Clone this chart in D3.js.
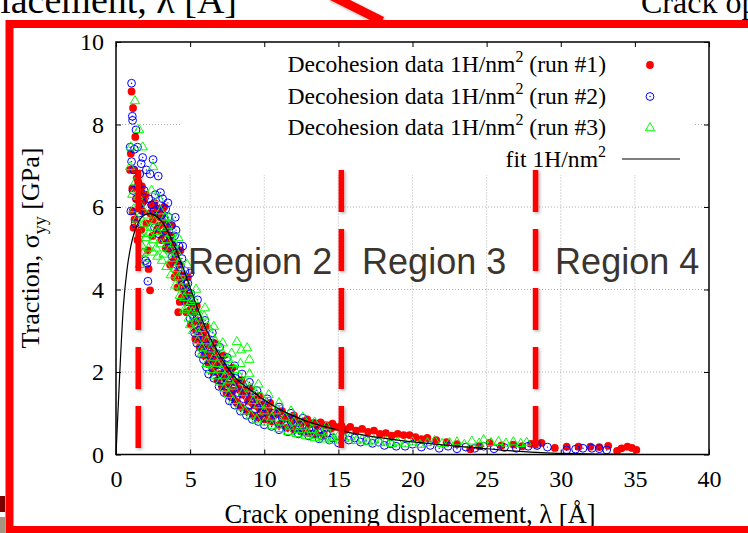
<!DOCTYPE html>
<html>
<head>
<meta charset="utf-8">
<script src="https://cdn.jsdelivr.net/npm/d3@7"></script>
<style>
  body { margin: 0; background: #fff; }
  svg { display: block; }
</style>
</head>
<body>
<svg id="chart" width="748" height="533"></svg>
<script>
// ---- data: [crack opening (A), traction (GPa)] ----
const run1 = [
  [0.95,6.9],[1.0,7.3],[1.05,8.8],[1.1,6.45],[1.12,5.9],[1.15,8.4],[1.18,5.5],[1.2,6.9],[1.25,5.7],[1.3,7.7],
  [1.35,6.2],[1.4,6.7],[1.45,5.2],[1.5,6.6],[1.6,6.0],[1.65,6.35],[1.7,5.45],[1.75,6.5],[1.8,5.9],[1.9,6.15],
  [2.0,6.3],[2.05,5.6],[2.15,4.95],[2.2,4.5],[2.3,3.98],[2.3,5.85],[2.4,6.05],[2.5,5.7],
  [2.6,6.1],[2.7,5.8],[2.8,5.95],[2.9,5.55],[3.0,5.75],[3.1,5.9],[3.2,5.35],[3.3,5.6],[3.4,5.45],[3.5,5.15],
  [3.6,5.3],[3.7,4.95],[3.8,5.1],[3.9,4.7],[4.0,4.85],[4.1,4.4],[4.2,3.45],[4.25,4.6],[4.3,3.7],[4.4,4.2],
  [4.5,4.35],[4.6,3.95],[4.7,4.05],[4.8,3.7],[4.9,3.85],[5.0,3.5],
  [5.1,3.65],[5.2,3.2],[5.3,3.45],[5.4,3.0],[5.5,3.25],[5.6,2.85],[5.7,3.1],[5.8,2.7],[5.9,2.95],[6.0,2.55],
  [6.1,2.8],[6.2,2.4],[6.35,2.65],[6.5,2.3],[6.6,2.5],[6.75,2.15],[6.9,2.35],[7.0,1.95],[7.15,2.2],[7.3,1.85],
  [7.45,2.05],[7.6,1.7],[7.75,1.9],[7.9,1.55],[8.05,1.75],[8.15,1.25],[8.3,1.6],[8.5,1.45],[8.7,1.55],[8.9,1.3],
  [9.1,1.4],[9.3,1.2],[9.5,1.3],[9.7,1.1],[9.9,1.2],
  [10.1,1.0],[10.3,1.1],[10.6,0.95],[10.9,1.0],[11.2,0.85],[11.5,0.92],[11.8,0.8],[12.1,0.85],[12.4,0.75],[12.7,0.8],
  [13.0,0.72],[13.3,0.76],[13.6,0.68],[13.9,0.72],[14.2,0.71],[14.5,0.63],[14.8,0.67],
  [15.2,0.7],[15.5,0.6],[15.8,0.67],[16.2,0.58],[16.6,0.62],[17.0,0.55],[17.4,0.58],[17.8,0.5],[18.2,0.52],[18.6,0.46],
  [19.0,0.5],[19.4,0.47],[19.8,0.47],[20.2,0.42],[20.6,0.37],[21.0,0.4],[21.6,0.35],[22.3,0.3],[23.0,0.25],[23.9,0.13],
  [24.5,0.2],[25.2,0.28],[26.0,0.22],[26.8,0.24],[27.4,0.2],[28.0,0.26],[28.7,0.28],[29.6,0.16],[30.4,0.19],[31.2,0.19],
  [32.0,0.19],[32.6,0.18],[33.2,0.21],[33.8,0.09],[34.1,0.15],[34.5,0.19],[34.8,0.16],[35.1,0.11],
  [2.45,5.3],[2.75,5.45],[3.05,5.2],[3.35,5.0],[3.65,4.6],[3.95,4.3],[4.15,4.05],[4.45,3.8],[4.75,3.45],[5.05,3.15],
  [5.35,2.8],[5.65,2.6],[5.95,2.4],[6.25,2.2],[6.55,2.0],[6.85,1.8],[7.15,1.65],[7.45,1.5],[7.75,1.4],[8.05,1.3],
  [8.45,1.15],[8.85,1.05],[9.25,0.95],[9.65,0.9],[10.05,0.85],[10.5,0.8],[11.0,0.72],[11.5,0.65],[12.0,0.6],[12.5,0.56],
  [13.0,0.52],[13.5,0.5],[14.0,0.48],[3.25,6.0],[3.75,5.55],[4.35,4.95],[4.85,4.3],[5.45,3.6],[6.05,3.1],[6.65,2.7],
  [7.25,2.4],[7.85,2.1],[8.45,1.8],[9.05,1.6],[9.65,1.42],[10.4,1.25],[11.2,1.05],[12.0,0.95],[12.9,0.85],[13.8,0.78],
  [14.6,0.75]
];
const run2 = [
  [0.95,7.45],[1.0,5.9],[1.05,9.0],[1.05,7.1],[1.1,8.2],[1.12,8.1],[1.15,6.4],[1.2,6.9],[1.25,7.4],[1.3,5.6],
  [1.35,7.87],[1.4,6.2],[1.45,7.45],[1.5,6.5],[1.55,5.85],[1.6,6.8],[1.7,7.05],[1.75,6.1],[1.8,7.2],[1.9,6.4],
  [2.0,4.7],[2.05,6.9],[2.1,4.64],[2.15,4.2],[2.2,6.2],[2.3,6.8],[2.4,6.05],[2.5,7.15],[2.55,5.9],
  [2.65,6.3],[2.75,5.95],[2.85,6.75],[2.95,6.05],[3.05,5.8],[3.15,6.2],[3.25,5.7],[3.35,5.95],[3.45,5.5],[3.55,5.75],
  [3.65,5.3],[3.75,5.55],[3.85,5.05],[3.95,5.3],[4.05,5.44],[4.15,4.9],[4.25,5.05],[4.35,4.55],[4.45,4.75],[4.55,4.3],
  [4.65,4.45],[4.75,3.95],[4.85,4.15],[4.95,3.7],[5.05,3.9],
  [5.15,3.4],[5.25,3.6],[5.35,3.15],[5.45,2.7],[5.55,3.3],[5.65,2.95],[5.75,3.1],[5.85,2.55],[5.95,2.8],[6.1,2.12],
  [6.2,2.6],[6.35,2.4],[6.5,2.7],[6.6,2.2],[6.75,2.45],[6.9,2.0],[7.0,1.8],[7.1,2.25],[7.25,1.9],[7.4,2.1],
  [7.55,1.75],[7.7,1.95],[7.8,1.4],[7.9,1.6],[8.05,1.85],[8.2,1.5],[8.4,1.7],[8.6,1.35],[8.8,1.55],[9.0,1.2],
  [9.2,1.45],[9.4,1.1],[9.6,1.3],[9.8,1.0],[10.0,1.15],
  [10.3,0.9],[10.6,1.0],[10.9,0.8],[11.2,0.9],[11.5,0.7],[11.8,0.8],[12.1,0.62],[12.4,0.7],[12.7,0.55],[13.0,0.62],
  [13.3,0.5],[13.6,0.56],[13.9,0.45],[14.2,0.5],[14.6,0.4],[15.0,0.28],[15.3,0.42],
  [15.7,0.35],[16.1,0.4],[16.5,0.3],[16.9,0.34],[17.3,0.27],[17.7,0.3],[18.1,0.22],[18.5,0.26],[18.9,0.2],[19.5,0.2],
  [20.0,0.25],[20.6,0.18],[21.2,0.22],[21.8,0.15],[22.4,0.2],[23.0,0.14],[23.6,0.18],[24.2,0.15],[24.8,0.2],[25.5,0.14],
  [26.2,0.17],[27.0,0.15],[27.8,0.2],[28.4,0.22],[29.1,0.18],[30.4,0.11],[31.0,0.13],[31.5,0.15],[32.1,0.15],[32.6,0.14],
  [33.1,0.11],
  [2.6,5.5],[2.9,5.35],[3.2,5.25],[3.5,5.0],[3.8,4.8],[4.1,4.6],[4.4,4.1],[4.7,3.7],[5.0,3.3],[5.3,2.95],
  [5.6,2.45],[5.9,2.3],[6.25,1.95],[6.6,1.85],[6.95,1.65],[7.3,1.5],[7.65,1.3],[8.0,1.2],[8.4,1.05],[8.8,0.95],
  [9.2,0.85],[9.6,0.8],[10.0,0.72],[10.5,0.68],[11.0,0.6],[11.6,0.55],[12.3,0.5],[13.0,0.45],[13.7,0.38],[14.4,0.35],
  [3.0,6.35],[3.5,6.1],[4.0,5.75],[4.5,5.05],[5.0,4.4],[5.5,3.75],[6.0,3.25],[6.5,2.95],[7.0,2.6],[7.5,2.35],
  [8.0,2.15],[8.5,1.95],[9.0,1.75],[9.5,1.55],[10.2,1.35],[11.0,1.15],[11.8,1.0],[12.6,0.88],[13.4,0.75],[14.2,0.65]
];
const run3 = [
  [0.95,6.97],[1.0,7.45],[1.1,6.3],[1.2,5.95],[1.28,8.57],[1.3,6.6],[1.4,5.7],[1.5,6.25],[1.55,7.87],[1.6,5.35],
  [1.7,6.0],[1.75,5.05],[1.8,7.45],[1.83,4.88],[1.9,5.6],[2.0,5.25],[2.1,5.8],[2.2,5.0],[2.3,5.5],[2.4,6.4],
  [2.5,6.97],[2.5,5.2],[2.6,5.65],
  [2.7,5.0],[2.8,5.4],[2.9,6.2],[3.0,5.1],[3.1,5.5],[3.2,4.85],[3.3,5.75],[3.4,5.2],[3.5,5.55],[3.6,4.95],
  [3.7,5.35],[3.8,4.75],[3.9,5.1],[4.0,4.5],[4.1,4.9],[4.2,4.3],[4.3,4.65],[4.4,4.05],[4.5,4.4],[4.6,3.8],
  [4.7,4.2],[4.8,3.55],[4.9,3.95],[5.0,3.14],[5.05,3.7],
  [5.15,3.45],[5.25,3.75],[5.35,3.2],[5.45,3.5],[5.55,2.95],[5.65,3.3],[5.8,2.58],[5.85,3.05],[5.95,3.35],[6.1,2.75],
  [6.2,3.1],[6.35,2.55],[6.45,2.9],[6.6,2.35],[6.7,2.75],[6.85,2.2],[6.95,2.6],[7.1,2.05],[7.2,2.45],[7.35,1.9],
  [7.5,2.3],[7.65,1.8],[7.75,2.2],[7.9,1.65],[8.0,2.05],[8.15,2.73],[8.3,1.9],[8.45,2.53],[8.55,1.5],[8.7,1.75],
  [8.85,2.58],[9.0,2.3],[9.1,1.6],[9.25,1.3],[9.4,1.5],[9.6,1.2],[9.8,1.4],[10.0,1.05],
  [10.2,1.2],[10.5,0.9],[10.8,1.05],[11.1,0.78],[11.4,0.9],[11.7,0.68],[12.0,0.78],[12.3,0.6],[12.6,0.68],[12.9,0.52],
  [13.2,0.6],[13.5,0.46],[13.8,0.54],[14.1,0.42],[14.4,0.48],[14.7,0.4],[15.0,0.45],
  [15.4,0.38],[15.8,0.42],[16.2,0.33],[16.6,0.37],[17.0,0.3],[17.4,0.34],[17.8,0.28],[18.2,0.32],[18.6,0.26],[19.0,0.3],
  [19.5,0.25],[20.0,0.3],[20.5,0.24],[21.0,0.28],[21.5,0.33],[22.0,0.26],[22.5,0.28],[23.0,0.3],[23.5,0.24],[24.0,0.32],
  [24.5,0.27],[24.8,0.35],[25.3,0.28],[25.8,0.31],[26.3,0.27],[26.8,0.3],[27.3,0.26],[27.7,0.29],
  [1.6,4.6],[1.9,4.75],[2.2,5.35],[2.5,4.9],[2.8,4.8],[3.1,4.7],[3.4,4.55],[3.7,4.35],[4.0,4.1],[4.3,3.85],
  [4.6,3.5],[4.9,3.3],[5.2,3.0],[5.5,2.75],[5.8,2.45],[6.1,2.2],[6.4,2.05],[6.7,1.9],[7.0,1.75],[7.3,1.6],
  [7.6,1.45],[7.9,1.3],[8.3,1.15],[8.7,1.05],[9.1,0.95],[9.5,0.85],[10.0,0.78],[10.5,0.7],[11.0,0.62],[11.6,0.55],
  [12.2,0.5],[12.8,0.45],[13.4,0.4],[14.0,0.37],[14.6,0.34],[3.0,5.9],[3.6,5.75],[4.2,5.25],[4.8,4.6],[5.4,4.0],
  [6.0,3.55],[6.6,3.1],[7.2,2.7],[7.8,2.45],[8.4,2.2],[9.0,1.95],[9.6,1.7],[10.3,1.45],[11.0,1.25],[11.8,1.05],
  [12.6,0.9],[13.4,0.78],[14.2,0.68]
];

// fitted traction-separation curve
const fitX = [0, 0.25, 0.5, 0.75, 1.0, 1.25, 1.5, 1.75, 2.0, 2.3, 2.6, 3.0, 3.5, 4.0, 4.5, 5.0, 5.5, 6.0, 6.5, 7.0,
              7.5, 8, 9, 10, 11, 12, 13, 14, 15, 17, 19, 21, 23, 25, 27, 29, 31, 33, 35];
const fitY = [0, 1.95, 3.6, 4.5, 5.05, 5.4, 5.62, 5.76, 5.82, 5.84, 5.8, 5.68, 5.4, 5.0, 4.55, 4.05, 3.55, 3.1, 2.72, 2.4,
              2.12, 1.88, 1.58, 1.32, 1.1, 0.93, 0.79, 0.68, 0.59, 0.45, 0.35, 0.27, 0.2, 0.14, 0.08, 0.04, 0.02, 0.01, 0.01];

const xTicks = [0, 5, 10, 15, 20, 25, 30, 35, 40];
const yTicks = [0, 2, 4, 6, 8, 10];

const legendLabels = ['Decohesion data 1H/nm', 'Decohesion data 1H/nm', 'Decohesion data 1H/nm', 'fit 1H/nm'];
const legendTails = [' (run #1)', ' (run #2)', ' (run #3)', ''];

// annotation overlay (in data units)
const regionLines = [1.5, 15.2, 28.3];
const regionNames = ['Region 2', 'Region 3', 'Region 4'];
const regionStart = [4.86, 16.6, 29.62];

const serif = '"Liberation Serif", "Times New Roman", serif';
const sans = '"Liberation Sans", Arial, sans-serif';

const svg = d3.select('#chart');
const x = d3.scaleLinear().domain([0, 40]).range([116, 709]);
const y = d3.scaleLinear().domain([0, 10]).range([454.5, 42]);

// soft shadow used by the slide's red marks (user space so thin lines keep it)
const defs = svg.append('defs');
defs.append('filter').attr('id', 'shadow').attr('filterUnits', 'userSpaceOnUse')
    .attr('x', 0).attr('y', 0).attr('width', 748).attr('height', 533)
  .append('feDropShadow')
    .attr('dx', 1.5).attr('dy', 1.5).attr('stdDeviation', 1.5)
    .attr('flood-color', '#000').attr('flood-opacity', 0.3);

// grid
svg.append('g').selectAll('line').data(xTicks.slice(1, -1)).join('line')
    .attr('x1', d => x(d)).attr('x2', d => x(d))
    .attr('y1', y(0)).attr('y2', y(10))
    .attr('stroke', '#b0b0b0').attr('stroke-dasharray', '1,2');
svg.append('g').selectAll('line').data(yTicks.slice(1, -1)).join('line')
    .attr('x1', x(0)).attr('x2', x(40))
    .attr('y1', d => y(d)).attr('y2', d => y(d))
    .attr('stroke', '#b0b0b0').attr('stroke-dasharray', '1,2');

// opaque key box hides grid
svg.append('rect').attr('x', 182).attr('y', 43).attr('width', 511).attr('height', 132).attr('fill', '#fff');

// axes
const styleAxis = g => {
  g.select('.domain').remove();
  g.selectAll('line').attr('stroke', '#000');
  g.selectAll('text').attr('font-family', serif).attr('font-size', 24).attr('fill', '#000');
};
svg.append('g').attr('transform', `translate(0,${y(0)})`)
    .call(d3.axisBottom(x).tickValues(xTicks).tickSize(-5).tickPadding(15)).call(styleAxis);
svg.append('g').attr('transform', `translate(0,${y(10)})`)
    .call(d3.axisTop(x).tickValues(xTicks).tickSize(-5).tickFormat('')).call(styleAxis);
svg.append('g').attr('transform', `translate(${x(0)},0)`)
    .call(d3.axisLeft(y).tickValues(yTicks).tickSize(-5).tickPadding(12)).call(styleAxis);
svg.append('g').attr('transform', `translate(${x(40)},0)`)
    .call(d3.axisRight(y).tickValues(yTicks).tickSize(-5).tickFormat('')).call(styleAxis);

svg.append('rect')
    .attr('x', x(0)).attr('y', y(10))
    .attr('width', x(40) - x(0)).attr('height', y(0) - y(10))
    .attr('fill', 'none').attr('stroke', '#000').attr('stroke-width', 1.5);

// data
const tri = d3.symbol(d3.symbolTriangle).size(38)();

svg.append('g').selectAll('circle').data(run1).join('circle')
    .attr('cx', d => x(d[0])).attr('cy', d => y(d[1])).attr('r', 3.9).attr('fill', '#ff0000');

const blue = svg.append('g').selectAll('g').data(run2).join('g')
    .attr('transform', d => `translate(${x(d[0])},${y(d[1])})`);
blue.append('circle').attr('r', 3.9).attr('fill', 'none').attr('stroke', '#0000ff').attr('stroke-width', 1);
blue.append('circle').attr('r', 0.7).attr('fill', '#0000ff');

svg.append('g').selectAll('path').data(run3).join('path')
    .attr('d', tri)
    .attr('transform', d => `translate(${x(d[0])},${y(d[1])})`)
    .attr('fill', 'none').attr('stroke', '#00ff00').attr('stroke-width', 1);

const fitLine = d3.line().x(d => x(d[0])).y(d => y(d[1])).curve(d3.curveMonotoneX);
svg.append('path').datum(d3.zip(fitX, fitY))
    .attr('d', fitLine).attr('fill', 'none').attr('stroke', '#000').attr('stroke-width', 1.2);

// legend
const keyRows = [72, 103.5, 135, 166.5];
const key = svg.append('g');
keyRows.forEach((yy, i) => {
  const t = key.append('text').attr('x', 606).attr('y', yy).attr('text-anchor', 'end')
      .attr('font-family', serif).attr('font-size', 23.6).attr('fill', '#000');
  t.append('tspan').text(legendLabels[i]);
  t.append('tspan').attr('dy', -10).attr('font-size', 16).text('2');
  t.append('tspan').attr('dy', 10).text(legendTails[i]);
});
key.append('circle').attr('cx', 650).attr('cy', 65).attr('r', 3.9).attr('fill', '#ff0000');
key.append('circle').attr('cx', 650).attr('cy', 96.5).attr('r', 3.9).attr('fill', 'none').attr('stroke', '#0000ff');
key.append('circle').attr('cx', 650).attr('cy', 96.5).attr('r', 0.7).attr('fill', '#0000ff');
key.append('path').attr('d', tri).attr('transform', 'translate(650,128)')
    .attr('fill', 'none').attr('stroke', '#00ff00');
key.append('line').attr('x1', 622).attr('x2', 680).attr('y1', 159).attr('y2', 159)
    .attr('stroke', '#000').attr('stroke-width', 1.2);

// axis titles
svg.append('text').attr('x', 410).attr('y', 523).attr('text-anchor', 'middle')
    .attr('font-family', serif).attr('font-size', 26.5).attr('fill', '#000')
    .text('Crack opening displacement, λ [Å]');
const yt = svg.append('text').attr('transform', 'translate(39,248) rotate(-90)').attr('text-anchor', 'middle')
    .attr('font-family', serif).attr('font-size', 26).attr('fill', '#000');
yt.append('tspan').text('Traction, σ');
yt.append('tspan').attr('dy', 7).attr('font-size', 18).text('yy');
yt.append('tspan').attr('dy', -7).text(' [GPa]');

// region overlay
svg.append('g').selectAll('line').data(regionLines).join('line')
    .attr('x1', d => x(d)).attr('x2', d => x(d))
    .attr('y1', y(6.9)).attr('y2', y(0.16))
    .attr('stroke', '#ff0000').attr('stroke-width', 5.5).attr('stroke-dasharray', '42,17')
    .attr('filter', 'url(#shadow)');
svg.append('g').selectAll('text').data(regionNames).join('text')
    .attr('x', (d, i) => x(regionStart[i])).attr('y', y(4.38))
    .attr('font-family', sans).attr('font-size', 36).attr('fill', '#3b352f')
    .text(d => d);

// slide elements around the chart
svg.append('text').attr('x', 237).attr('y', 13).attr('text-anchor', 'end')
    .attr('font-family', serif).attr('font-size', 38).attr('fill', '#000')
    .text('Crack opening displacement, λ [Å]');
svg.append('text').attr('x', 641).attr('y', 13)
    .attr('font-family', serif).attr('font-size', 32).attr('fill', '#000')
    .text('Crack opening displacement, λ [Å]');
svg.append('line').attr('x1', 330).attr('y1', -5).attr('x2', 382).attr('y2', 21)
    .attr('stroke', '#ff0000').attr('stroke-width', 9).attr('filter', 'url(#shadow)');
svg.append('rect').attr('x', 9.5).attr('y', 24).attr('width', 800).attr('height', 506)
    .attr('fill', 'none').attr('stroke', '#ff0000').attr('stroke-width', 8);
svg.append('rect').attr('x', 0).attr('y', 496).attr('width', 5).attr('height', 16).attr('fill', '#7a0000');
svg.append('rect').attr('x', 0).attr('y', 517).attr('width', 5).attr('height', 16).attr('fill', '#a39580');
</script>
</body>
</html>
